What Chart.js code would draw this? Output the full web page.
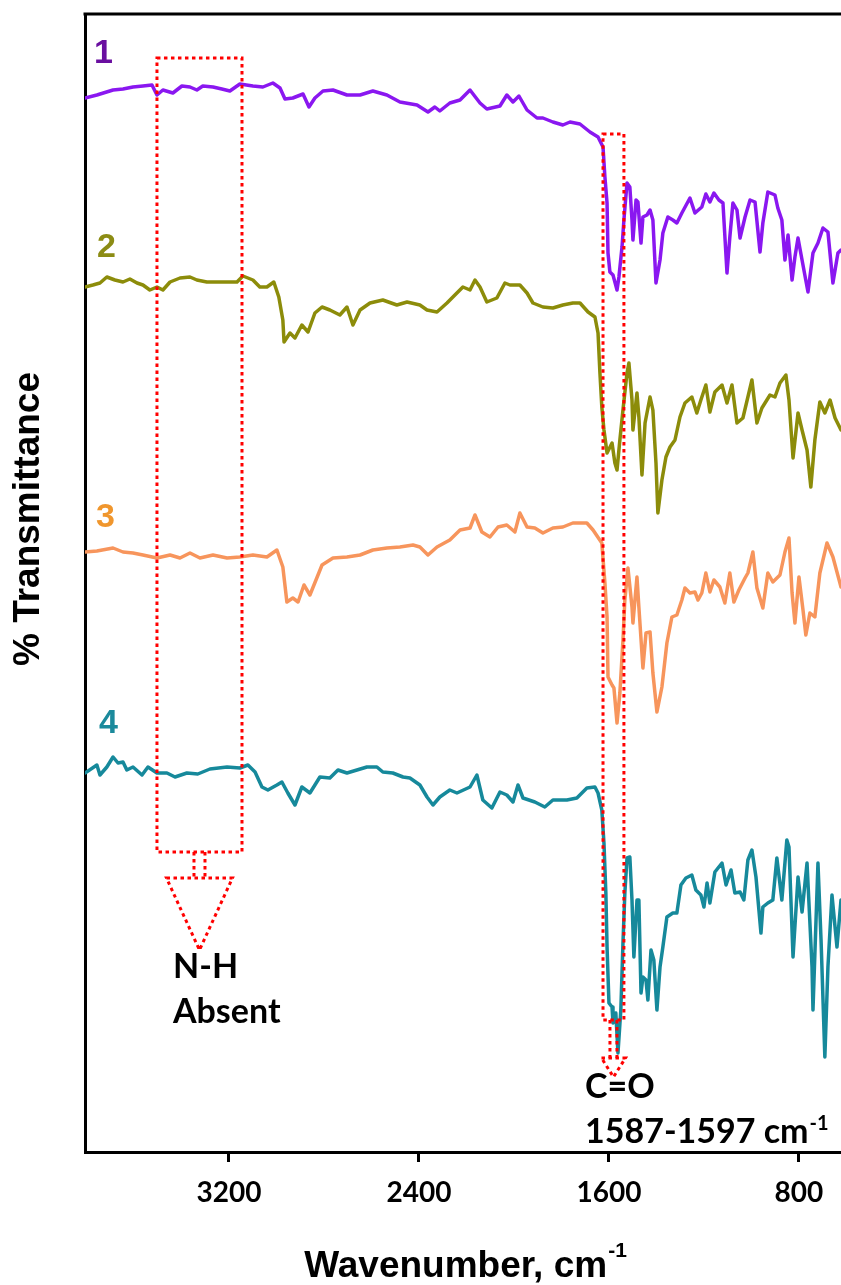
<!DOCTYPE html>
<html>
<head>
<meta charset="utf-8">
<title>FTIR spectra</title>
<script src="https://cdn.jsdelivr.net/npm/chart.js@4.4.1/dist/chart.umd.min.js"></script>
<style>
  html, body { margin: 0; padding: 0; background: #fff; }
  #wrap { width: 841px; height: 1285px; }
</style>
</head>
<body>
<div id="wrap"><canvas id="myChart" width="841" height="1285"></canvas></div>
<script>
/*========== DATA (wavenumber cm-1 / % transmittance, offset) ==========*/
const xTicks = [3200, 2400, 1600, 800];

const wn1 = [3806,3756,3688,3646,3604,3562,3524,3503,3478,3436,3398,3364,3335,3310,3267,3230,3196,3154,3099,3057,3015,2985,2964,2931,2888,2863,2838,2804,2762,2703,2648,2594,2535,2480,2408,2362,2333,2312,2270,2227,2185,2143,2114,2059,2030,2004,1979,1945,1903,1878,1836,1794,1764,1722,1680,1646,1625,1617,1608,1604,1596,1583,1566,1558,1545,1537,1524,1512,1503,1499,1486,1478,1465,1457,1440,1427,1415,1402,1385,1373,1352,1331,1314,1293,1259,1238,1209,1192,1175,1158,1137,1120,1103,1091,1078,1061,1048,1027,1006,985,964,952,931,901,889,872,859,846,829,817,804,787,762,741,720,699,678,657,636,623];
const t1 = [105.4,105.7,106.2,106.3,106.5,106.6,106.7,105.7,106.2,105.9,106.6,106.5,106.2,106.6,106.5,106.3,106.1,106.8,106.6,106.5,106.9,106.4,105.3,105.4,105.8,104.5,105.4,106.1,106.2,105.7,105.7,106.1,105.7,105.0,104.7,104.0,104.5,104.1,104.9,105.2,106.2,104.9,104.3,104.6,105.7,105.0,105.6,104.2,103.4,103.4,103.0,102.7,103.0,102.8,102.0,101.5,100.5,97.5,94.9,89.9,88.0,87.7,86.2,87.5,90.5,93.2,96.9,96.5,93.2,91.2,95.2,95.0,90.9,93.5,93.7,94.2,93.2,86.9,89.2,91.9,93.5,93.2,92.9,93.9,95.4,93.9,94.5,95.8,95.0,95.9,95.2,94.9,87.9,91.5,94.9,94.2,91.4,93.5,95.2,95.0,90.0,92.9,96.0,95.7,94.4,93.2,89.2,91.7,87.2,89.5,91.4,89.2,86.0,89.9,90.9,92.4,92.0,86.9,89.9,90.2];

const wn2 = [3806,3773,3743,3714,3680,3646,3617,3587,3562,3533,3503,3478,3448,3406,3364,3335,3293,3251,3208,3166,3141,3099,3070,3040,3011,2990,2973,2968,2943,2922,2893,2867,2838,2808,2775,2733,2703,2678,2648,2606,2552,2493,2450,2396,2366,2324,2282,2257,2215,2185,2164,2143,2114,2072,2038,2017,1975,1945,1920,1878,1836,1794,1752,1722,1688,1659,1646,1638,1630,1621,1608,1587,1575,1566,1554,1541,1524,1516,1503,1499,1482,1474,1461,1448,1427,1415,1402,1394,1377,1360,1343,1322,1301,1280,1251,1230,1213,1192,1175,1154,1124,1103,1082,1061,1036,998,977,956,922,901,880,855,842,825,804,787,766,750,733,712,691,669,648,623];
const t2 = [86.5,86.7,86.9,87.5,87.2,87.0,87.3,86.9,86.7,86.2,86.5,86.2,87.0,87.4,87.5,87.2,87.0,87.0,87.0,87.0,87.6,87.2,86.5,86.5,87.0,85.5,83.2,81.0,81.9,81.4,82.7,82.0,83.9,84.5,84.2,83.7,84.5,82.7,84.2,84.9,85.2,84.7,85.0,84.7,84.2,84.0,84.9,85.5,86.5,86.2,87.2,86.5,85.0,85.4,86.9,86.7,86.7,85.9,84.9,84.5,84.4,84.7,84.9,84.9,84.0,83.5,81.9,77.9,74.5,72.2,69.9,70.9,68.9,68.2,71.2,74.2,77.9,78.9,75.2,72.2,75.9,73.5,67.7,72.9,75.5,74.2,68.9,63.9,67.2,69.5,70.5,71.2,73.5,74.9,75.5,73.9,75.2,76.7,74.0,76.0,76.7,74.9,76.7,72.9,73.4,77.2,72.9,74.4,75.7,75.5,76.9,77.7,75.2,69.4,73.9,72.2,70.2,66.5,71.2,75.0,73.9,75.2,73.4,72.2];

const wn3 = [3806,3756,3688,3646,3604,3562,3503,3448,3406,3364,3322,3267,3208,3154,3099,3040,2998,2973,2956,2931,2909,2884,2859,2808,2762,2703,2648,2594,2535,2480,2425,2396,2362,2324,2270,2227,2185,2164,2135,2101,2067,2030,1996,1975,1945,1912,1878,1836,1794,1752,1693,1667,1630,1617,1608,1604,1587,1579,1566,1554,1541,1533,1520,1503,1499,1482,1474,1457,1444,1427,1415,1398,1377,1356,1335,1314,1293,1280,1259,1238,1225,1209,1192,1175,1158,1133,1112,1091,1074,1053,1027,1015,994,977,952,931,910,880,859,842,829,817,800,783,771,754,733,712,682,657,623];
const t3 = [60.0,60.1,60.4,60.0,59.9,59.7,59.4,59.7,59.4,59.9,59.4,59.7,59.4,59.5,59.7,59.5,60.2,58.5,55.0,55.4,55.0,56.7,55.7,58.7,59.4,59.5,59.7,60.2,60.4,60.5,60.7,60.5,59.7,60.5,61.2,62.2,62.4,63.7,62.0,61.5,62.5,62.7,62.0,63.9,62.5,62.4,61.9,62.4,62.5,62.9,62.9,62.2,60.9,56.9,53.5,47.5,46.7,46.4,42.9,45.9,51.2,55.2,58.4,54.5,52.9,57.5,54.5,48.4,51.9,52.0,47.9,44.0,46.5,50.9,53.5,53.7,55.2,56.4,55.9,56.0,55.2,55.9,57.9,56.0,57.2,56.5,54.9,57.9,55.0,56.2,57.4,57.9,60.0,56.4,54.4,57.9,57.0,57.7,60.0,61.4,55.9,52.9,57.5,54.2,51.7,53.9,53.5,57.9,60.9,59.5,56.5];

const wn4 = [3806,3756,3743,3714,3688,3667,3646,3630,3604,3566,3541,3503,3461,3427,3377,3331,3280,3208,3154,3120,3090,3061,3036,2998,2977,2952,2922,2893,2859,2817,2775,2741,2703,2661,2619,2577,2552,2510,2467,2438,2408,2396,2366,2341,2312,2270,2240,2185,2156,2131,2093,2059,2030,2004,1983,1962,1912,1870,1836,1777,1735,1693,1659,1646,1630,1621,1613,1608,1600,1587,1583,1571,1562,1550,1541,1533,1524,1512,1503,1495,1482,1474,1465,1457,1444,1436,1423,1411,1398,1385,1373,1356,1331,1314,1297,1276,1251,1234,1213,1200,1187,1175,1154,1124,1107,1086,1070,1048,1032,1015,998,981,960,952,931,910,893,872,851,842,825,804,787,766,745,741,720,707,691,678,661,640,623];
const t4 = [37.9,38.7,37.7,38.5,39.5,38.9,39.0,38.2,38.5,37.7,38.5,37.9,37.9,37.5,37.9,37.8,38.3,38.5,38.4,38.7,38.0,36.5,36.2,36.7,37.0,35.9,34.7,36.5,35.9,37.5,37.4,38.2,37.9,38.2,38.5,38.5,38.0,37.9,37.5,37.4,36.9,36.7,35.5,34.7,35.5,36.2,35.9,36.5,37.7,35.2,34.4,36.0,35.7,35.0,36.7,35.4,35.0,34.5,35.2,35.2,35.4,36.4,36.5,35.9,34.2,30.9,25.9,20.5,14.9,14.5,12.9,13.9,9.9,14.2,20.9,25.9,29.4,29.5,25.2,19.5,25.2,25.2,15.9,17.5,17.2,15.2,20.2,19.2,14.2,18.5,20.5,23.5,23.9,23.9,26.7,27.4,27.7,26.2,25.7,24.5,26.9,24.9,28.0,28.9,26.7,28.2,25.9,26.0,25.2,29.2,30.2,27.5,21.9,24.5,24.9,25.2,29.4,25.2,31.2,30.5,19.5,27.5,24.0,28.9,18.5,14.2,28.9,21.2,9.5,18.5,25.7,20.5,25.2];

// vung danh dau (don vi du lieu)
const nhBox = { from: 3503, to: 3145, top: 109.4, bottom: 30.0 };
const coBox = { from: 1625, to: 1537, top: 101.8, bottom: 13.2 };

/*========== STYLE ==========*/
const colors = ['#8a17f0', '#8c8c0a', '#f7955c', '#16899b'];
const labelColors = ['#6a0fa0', '#8c8c14', '#f0962d', '#1b8a9c'];
const labelPos = [[94, 63], [97, 257], [96, 527], [99, 733]];

function toPoints(xs, ys) {
  return xs.map((x, i) => ({ x: x, y: ys[i] }));
}

/*========== VE CHU, KHUNG, MUI TEN ==========*/
function supText(ctx, main, sup, x, y, font, supFont, rise) {
  ctx.font = font;
  ctx.fillText(main, x, y);
  const w = ctx.measureText(main).width;
  ctx.font = supFont;
  ctx.fillText(sup, x + w + 1, y - rise);
}

function dotted(ctx, pts, close) {
  ctx.beginPath();
  pts.forEach((p, i) => (i ? ctx.lineTo(p[0], p[1]) : ctx.moveTo(p[0], p[1])));
  if (close) ctx.closePath();
  ctx.stroke();
}

function boxArrow(ctx, xs, ys, box, stemHalf, stemLen, triHalf, triLen) {
  const l = xs.getPixelForValue(box.from), r = xs.getPixelForValue(box.to);
  const t = ys.getPixelForValue(box.top), b = ys.getPixelForValue(box.bottom);
  const cx = (l + r) / 2;
  dotted(ctx, [[l, t], [r, t], [r, b], [l, b]], true);
  dotted(ctx, [[cx - stemHalf, b], [cx - stemHalf, b + stemLen]]);
  dotted(ctx, [[cx + stemHalf, b], [cx + stemHalf, b + stemLen]]);
  dotted(ctx, [[cx - triHalf, b + stemLen], [cx + triHalf, b + stemLen], [cx, b + stemLen + triLen]], true);
}

const decorPlugin = {
  id: 'decor',
  afterDraw(chart) {
    const { ctx, chartArea: a } = chart;
    const xs = chart.scales.x, ys = chart.scales.y;
    ctx.save();

    // vien tren
    ctx.strokeStyle = '#000';
    ctx.lineWidth = 3;
    ctx.beginPath();
    ctx.moveTo(a.left - 1.5, a.top);
    ctx.lineTo(a.right, a.top);
    ctx.stroke();

    // khung do net cham
    ctx.strokeStyle = '#ff0000';
    ctx.lineWidth = 3;
    ctx.setLineDash([3.5, 3.5]);
    boxArrow(ctx, xs, ys, nhBox, 5.5, 26, 33, 72);
    boxArrow(ctx, xs, ys, coBox, 3.5, 38, 12, 19);
    ctx.setLineDash([]);

    // so thu tu pho
    ctx.font = 'bold 34px "Liberation Sans", Arial, sans-serif';
    ctx.textBaseline = 'alphabetic';
    ctx.textAlign = 'left';
    ['1', '2', '3', '4'].forEach((s, i) => {
      ctx.fillStyle = labelColors[i];
      ctx.fillText(s, labelPos[i][0], labelPos[i][1]);
    });

    // chu thich
    const aFont = 'bold 34px Lato, sans-serif';
    ctx.fillStyle = '#000';
    ctx.font = aFont;
    ctx.fillText('N-H', 173, 978);
    ctx.fillText('Absent', 173, 1023);
    ctx.fillText('C=O', 585, 1098);
    supText(ctx, '1587-1597 cm', '-1', 585, 1143, aFont, 'bold 20px Lato, sans-serif', 13);

    // tieu de truc x
    const tFont = 'bold 37px "Liberation Sans", Arial, sans-serif';
    const sFont = 'bold 21px "Liberation Sans", Arial, sans-serif';
    ctx.font = tFont;
    const w1 = ctx.measureText('Wavenumber, cm').width;
    ctx.font = sFont;
    const w2 = ctx.measureText('-1').width;
    supText(ctx, 'Wavenumber, cm', '-1', 465 - (w1 + w2) / 2, 1277, tFont, sFont, 20);

    // tieu de truc y
    ctx.translate(29, 519);
    ctx.rotate(-Math.PI / 2);
    ctx.font = tFont;
    ctx.textAlign = 'center';
    ctx.textBaseline = 'middle';
    ctx.fillText('% Transmittance', 0, 0);
    ctx.restore();
  }
};

/*========== TAO CHART ==========*/
const ctx = document.getElementById('myChart').getContext('2d');
const series = [[wn1, t1], [wn2, t2], [wn3, t3], [wn4, t4]];

const chart = new Chart(ctx, {
  type: 'line',
  data: {
    datasets: series.map((s, i) => ({
      label: 'Sample ' + (i + 1),
      data: toPoints(s[0], s[1]),
      borderColor: colors[i],
      borderWidth: 3.5,
      borderJoinStyle: 'round',
      borderCapStyle: 'round',
      pointRadius: 0,
      tension: 0
    }))
  },
  options: {
    animation: false,
    responsive: false,
    devicePixelRatio: 1,
    layout: { padding: { top: 14, right: 0, left: 0, bottom: 0 } },
    plugins: { legend: { display: false }, tooltip: { enabled: false } },
    scales: {
      x: {
        type: 'linear',
        reverse: true,
        min: 623,
        max: 3806,
        afterBuildTicks: (scale) => { scale.ticks = xTicks.map(v => ({ value: v })); },
        afterFit: (scale) => { scale.height = 133; scale.paddingLeft = 0; scale.paddingRight = 0; },
        ticks: {
          callback: (v) => String(v),
          color: '#000',
          font: { family: 'Lato', weight: 'bold', size: 28 },
          padding: 14,
          maxRotation: 0
        },
        grid: { drawOnChartArea: false, tickLength: 10, tickColor: '#000', tickWidth: 3 },
        border: { display: true, color: '#000', width: 3 }
      },
      y: {
        min: 0,
        max: 113.8,
        ticks: { display: false },
        grid: { display: false },
        afterFit: (scale) => { scale.width = 85; scale.paddingTop = 0; scale.paddingBottom = 0; },
        border: { display: true, color: '#000', width: 3 }
      }
    }
  },
  plugins: [decorPlugin]
});
</script>
</body>
</html>
